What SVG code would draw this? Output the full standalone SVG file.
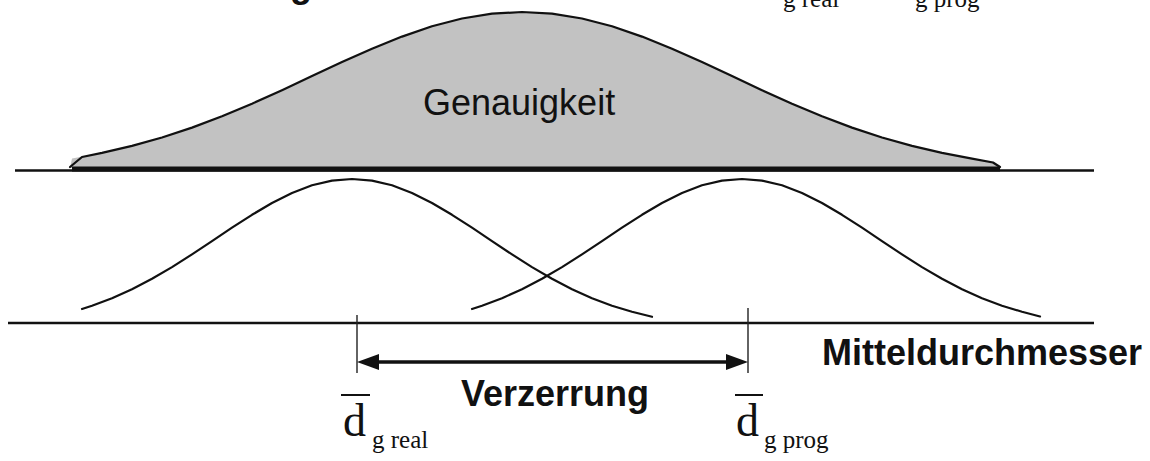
<svg xmlns="http://www.w3.org/2000/svg" width="1150" height="461" viewBox="0 0 1150 461">
<style>
.curve{fill:none;stroke:#111;stroke-width:2.2;stroke-linejoin:round;stroke-linecap:round}
.axis{stroke:#111;stroke-width:2.6;fill:none}
.tick{stroke:#222;stroke-width:1.4}
.bold{font-family:"Liberation Sans",Arial,sans-serif;font-weight:bold;font-size:36px;fill:#111}
.sans{font-family:"Liberation Sans",Arial,sans-serif;font-size:36px;fill:#111}
.serif{font-family:"Liberation Serif","Times New Roman",serif;fill:#111}
</style>
<defs>
<marker id="ah" markerUnits="userSpaceOnUse" markerWidth="22" markerHeight="16" refX="10" refY="8" orient="auto-start-reverse">
<path d="M0,0 L22,8 L0,16 Z" fill="#111"/>
</marker>
</defs>
<rect width="1150" height="461" fill="#fff"/>

<g id="top-partial-text">
<text class="bold" x="290" y="-3">g</text>
<text class="serif" font-size="25" x="783" y="7">g real</text>
<text class="serif" font-size="25" x="915" y="7">g prog</text>
</g>

<g id="genauigkeit">
<path d="M70,168 L72,158.6 L102,152.9 L132,145.9 L162,137.5 L192,127.6 L222,116.3 L252,103.7 L282,90.2 L312,76.1 L342,62.1 L372,48.7 L402,36.6 L432,26.3 L462,18.5 L492,13.7 L522,12 L552,13.7 L582,18.5 L612,26.3 L642,36.6 L672,48.7 L702,62.1 L732,76.1 L762,90.2 L792,103.7 L822,116.3 L852,127.6 L882,137.5 L912,145.9 L942,152.9 L972,158.6 L993,161.8 L1000,168 Z" fill="#c2c2c2" stroke="none"/>
<path class="curve" d="M70,167 L82,157 L102,152.9 L132,145.9 L162,137.5 L192,127.6 L222,116.3 L252,103.7 L282,90.2 L312,76.1 L342,62.1 L372,48.7 L402,36.6 L432,26.3 L462,18.5 L492,13.7 L522,12 L552,13.7 L582,18.5 L612,26.3 L642,36.6 L672,48.7 L702,62.1 L732,76.1 L762,90.2 L792,103.7 L822,116.3 L852,127.6 L882,137.5 L912,145.9 L942,152.9 L972,158.6 L993,162.5 L1000,167"/>
<text class="sans" x="423" y="115">Genauigkeit</text>
</g>

<g id="axes">
<line class="axis" x1="15" y1="170.5" x2="1094" y2="170.5"/>
<line x1="72" y1="169" x2="1000" y2="169" stroke="#111" stroke-width="5"/>
<line class="axis" x1="8" y1="323" x2="1094" y2="323"/>
</g>

<g id="bell-real">
<path class="curve" d="M82,309 L92,305.7 L112,298.2 L132,289.2 L152,278.8 L172,267.1 L192,254.4 L212,241.1 L232,227.7 L252,214.8 L272,203 L292,193 L312,185.3 L332,180.6 L352,179 L372,180.6 L392,185.3 L412,193 L432,203 L452,214.8 L472,227.7 L492,241.1 L512,254.4 L532,267.1 L552,278.8 L572,289.2 L592,298.2 L612,305.7 L632,311.8 L652,316.8"/>
</g>

<g id="bell-prog">
<path class="curve" d="M472,309 L482,305.7 L502,298.2 L522,289.2 L542,278.8 L562,267.1 L582,254.4 L602,241.1 L622,227.7 L642,214.8 L662,203 L682,193 L702,185.3 L722,180.6 L742,179 L762,180.6 L782,185.3 L802,193 L822,203 L842,214.8 L862,227.7 L882,241.1 L902,254.4 L922,267.1 L942,278.8 L962,289.2 L982,298.2 L1002,305.7 L1022,311.8 L1040,316.5"/>
</g>

<g id="connectors">
<line class="tick" x1="357" y1="315" x2="357" y2="373"/>
<line class="tick" x1="748" y1="308" x2="748" y2="373"/>
<line x1="369" y1="362" x2="736" y2="362" stroke="#111" stroke-width="3.5" marker-start="url(#ah)" marker-end="url(#ah)"/>
</g>

<g id="labels">
<text class="bold" x="822" y="365">Mitteldurchmesser</text>
<text class="bold" x="461" y="406">Verzerrung</text>
</g>

<g id="d-real">
<line x1="341" y1="395" x2="370" y2="395" stroke="#111" stroke-width="2"/>
<text class="serif" font-size="46" x="343" y="436">d</text>
<text class="serif" font-size="25" x="372" y="448">g real</text>
</g>

<g id="d-prog">
<line x1="735" y1="395" x2="763" y2="395" stroke="#111" stroke-width="2"/>
<text class="serif" font-size="46" x="736" y="436">d</text>
<text class="serif" font-size="25" x="764" y="448">g prog</text>
</g>
</svg>
